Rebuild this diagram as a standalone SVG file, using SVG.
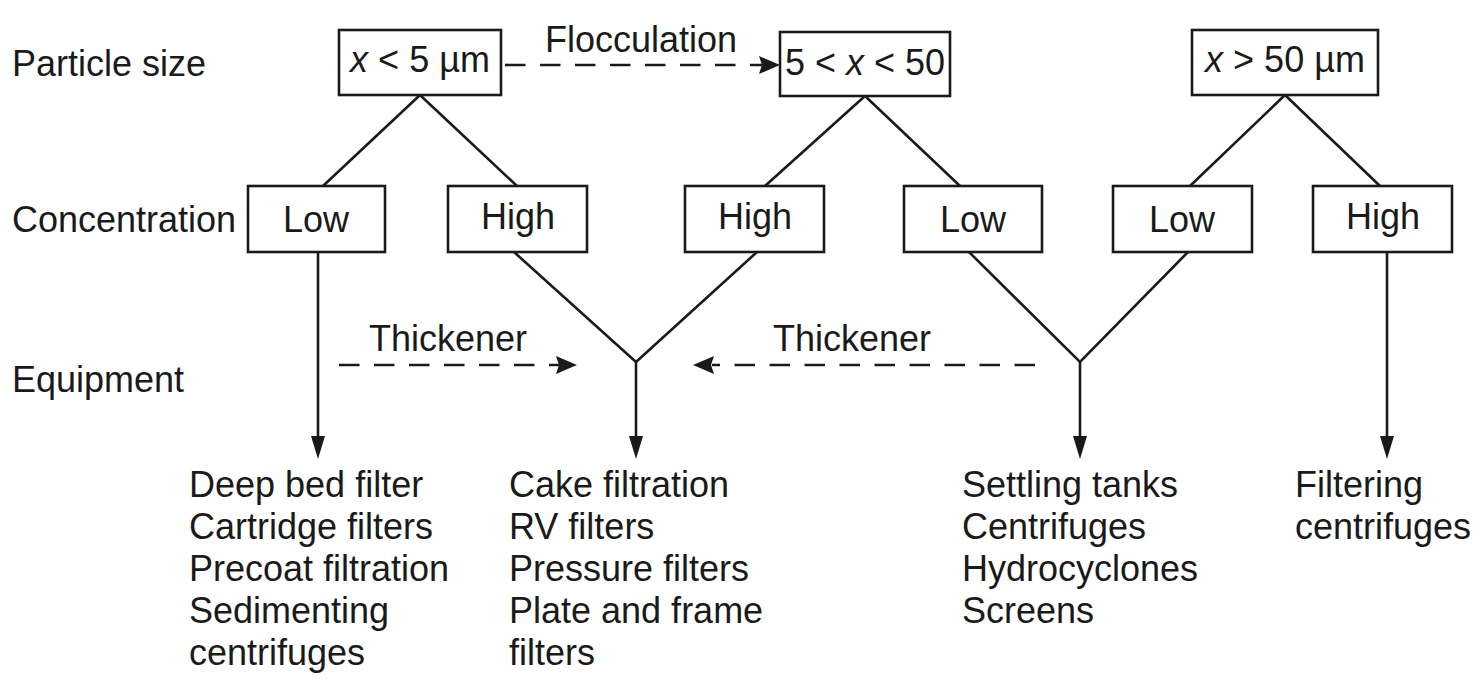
<svg xmlns="http://www.w3.org/2000/svg" width="1484" height="683" viewBox="0 0 1484 683">
<style>
text{font-family:"Liberation Sans",Arial,sans-serif;font-size:36px;fill:#1a1a1a}
.c{text-anchor:middle}
.box{fill:#fff;stroke:#1a1a1a;stroke-width:2.6}
.ln{fill:none;stroke:#1a1a1a;stroke-width:2.6}
.dash{fill:none;stroke:#1a1a1a;stroke-width:2.6;stroke-dasharray:20.5 14.5}
.ah{fill:#1a1a1a}
</style>
<rect width="1484" height="683" fill="#fff"/>
<g id="labels">
<text x="12" y="76">Particle size</text>
<text x="12" y="232">Concentration</text>
<text x="12" y="392">Equipment</text>
</g>
<g id="connectors">
<line class="ln" x1="420" y1="95" x2="323" y2="186"/>
<line class="ln" x1="420" y1="95" x2="517" y2="186"/>
<line class="ln" x1="865" y1="96" x2="765" y2="186"/>
<line class="ln" x1="865" y1="96" x2="960" y2="186"/>
<line class="ln" x1="1285" y1="95" x2="1190" y2="186"/>
<line class="ln" x1="1285" y1="95" x2="1380" y2="186"/>
<line class="ln" x1="318" y1="252" x2="318" y2="440"/>
<polygon class="ah" points="311,436 325,436 318,459"/>
<polyline class="ln" points="514,252 636,362 757,252"/>
<line class="ln" x1="636" y1="362" x2="636" y2="440"/>
<polygon class="ah" points="629,436 643,436 636,459"/>
<polyline class="ln" points="969,252 1080,362 1188,252"/>
<line class="ln" x1="1080" y1="362" x2="1080" y2="440"/>
<polygon class="ah" points="1073,436 1087,436 1080,459"/>
<line class="ln" x1="1387" y1="252" x2="1387" y2="440"/>
<polygon class="ah" points="1380,436 1394,436 1387,459"/>
<line class="dash" x1="505" y1="65" x2="762" y2="65"/>
<polygon class="ah" points="780,65 759,56 762,65 759,74"/>
<line class="dash" x1="339" y1="365" x2="560" y2="365"/>
<polygon class="ah" points="577,365 556,356 559,365 556,374"/>
<line class="dash" x1="1035" y1="365" x2="712" y2="365"/>
<polygon class="ah" points="693,365 714,356 711,365 714,374"/>
<text x="641" y="52" class="c">Flocculation</text>
<text x="448" y="351" class="c">Thickener</text>
<text x="852" y="351" class="c">Thickener</text>
</g>
<g id="size-small">
<rect class="box" x="339" y="30" width="162" height="65"/>
<text x="420" y="72" class="c"><tspan font-style="italic">x</tspan> &lt; 5 µm</text>
</g>
<g id="size-mid">
<rect class="box" x="780" y="32" width="170" height="64"/>
<text x="865" y="75" class="c" font-size="35">5 &lt; <tspan font-style="italic">x</tspan> &lt; 50</text>
</g>
<g id="size-large">
<rect class="box" x="1192" y="30" width="186" height="65"/>
<text x="1285" y="72" class="c"><tspan font-style="italic">x</tspan> &gt; 50 µm</text>
</g>
<g id="low1"><rect class="box" x="248" y="186" width="137" height="66"/><text x="316" y="232" class="c">Low</text></g>
<g id="high1"><rect class="box" x="448" y="186" width="139" height="66"/><text x="518" y="229" class="c">High</text></g>
<g id="high2"><rect class="box" x="685" y="186" width="139" height="66"/><text x="755" y="229" class="c">High</text></g>
<g id="low2"><rect class="box" x="904" y="186" width="138" height="66"/><text x="973" y="232" class="c">Low</text></g>
<g id="low3"><rect class="box" x="1113" y="186" width="139" height="66"/><text x="1182" y="232" class="c">Low</text></g>
<g id="high3"><rect class="box" x="1313" y="186" width="139" height="66"/><text x="1383" y="229" class="c">High</text></g>
<g id="equip1">
<text x="189" y="497">Deep bed filter</text>
<text x="189" y="539">Cartridge filters</text>
<text x="189" y="581">Precoat filtration</text>
<text x="189" y="623">Sedimenting</text>
<text x="189" y="665">centrifuges</text>
</g>
<g id="equip2">
<text x="509" y="497">Cake filtration</text>
<text x="509" y="539">RV filters</text>
<text x="509" y="581">Pressure filters</text>
<text x="509" y="623">Plate and frame</text>
<text x="509" y="665">filters</text>
</g>
<g id="equip3">
<text x="962" y="497">Settling tanks</text>
<text x="962" y="539">Centrifuges</text>
<text x="962" y="581">Hydrocyclones</text>
<text x="962" y="623">Screens</text>
</g>
<g id="equip4">
<text x="1295" y="497">Filtering</text>
<text x="1295" y="539">centrifuges</text>
</g>
</svg>
